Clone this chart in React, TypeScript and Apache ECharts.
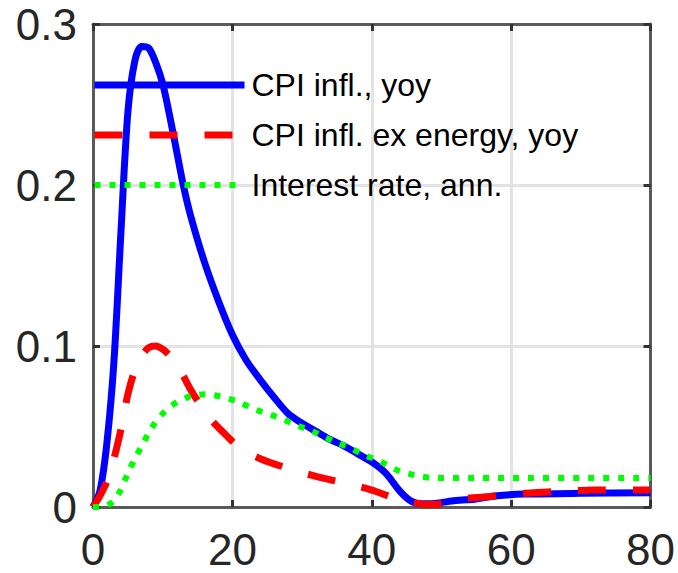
import React, { useEffect, useRef } from "react";
import * as echarts from "echarts";

const seriesNames = ["CPI infl., yoy", "CPI infl. ex energy, yoy", "Interest rate, ann."];

const cpiX = [0, 1, 2, 3, 4, 5, 6, 7, 8, 9, 10, 11, 12, 13, 14, 16, 18, 20, 22, 24, 26, 28, 30, 32, 34, 36, 38, 40, 42, 44, 45.5, 47, 49, 52, 55, 58, 62, 70, 80];
const cpiY = [0, 0.01, 0.04, 0.09, 0.17, 0.245, 0.277, 0.286, 0.285, 0.276, 0.263, 0.243, 0.221, 0.199, 0.181, 0.152, 0.128, 0.107, 0.091, 0.079, 0.068, 0.058, 0.052, 0.047, 0.042, 0.038, 0.033, 0.028, 0.021, 0.01, 0.004, 0.002, 0.0022, 0.004, 0.005, 0.007, 0.008, 0.0085, 0.0088];

const coreX = [0, 1, 2, 3, 4, 5, 6, 7, 8, 9, 10, 11, 12, 13, 14, 15, 17, 19, 21, 24, 28, 32, 36, 40, 43, 46, 48, 50, 53, 57, 62, 66, 72, 80];
const coreY = [0, 0.007, 0.016, 0.03, 0.048, 0.07, 0.085, 0.094, 0.099, 0.1, 0.098, 0.094, 0.088, 0.081, 0.073, 0.066, 0.054, 0.045, 0.037, 0.03, 0.024, 0.019, 0.015, 0.0105, 0.006, 0.0028, 0.0015, 0.002, 0.005, 0.0065, 0.0085, 0.0095, 0.0105, 0.0105];

const rateX = [0, 1, 2, 3, 4, 5, 6, 7, 8, 9, 10, 11, 12, 13, 14, 15, 16, 17, 19, 21, 23, 25, 27, 29, 31, 33, 35, 37, 39, 41, 43, 45, 47, 49, 55, 80];
const rateY = [0, 0, 0.001, 0.004, 0.011, 0.021, 0.03, 0.038, 0.046, 0.053, 0.058, 0.062, 0.065, 0.067, 0.069, 0.0695, 0.07, 0.0697, 0.068, 0.065, 0.061, 0.058, 0.055, 0.051, 0.048, 0.044, 0.040, 0.0365, 0.032, 0.029, 0.024, 0.021, 0.019, 0.018, 0.018, 0.018];

const xTicks = { min: 0, max: 80, interval: 20 };
const yTicks = { min: 0, max: 0.3, interval: 0.1 };

const FONT = "'Liberation Sans', Arial, sans-serif";

function pairs(xs: number[], ys: number[]) {
  return xs.map((x, i) => [x, ys[i]]);
}

export default function App() {
  const ref = useRef<HTMLDivElement>(null);
  useEffect(() => {
    document.body.style.margin = "0";
    const chart = echarts.init(ref.current!, undefined, { renderer: "svg" });
    const frame = "#5a5a5a";
    const tickColor = "#262626";
    const mainX = {
      type: "value" as const,
      ...xTicks,
      position: "bottom" as const,
      axisLine: { show: true, onZero: false, lineStyle: { color: frame, width: 3 } },
      axisTick: { show: true, inside: true, length: 7, lineStyle: { color: "#333", width: 3 } },
      axisLabel: { fontSize: 44, fontFamily: FONT, color: tickColor, margin: 20 },
      splitLine: { show: true, lineStyle: { color: "#e3e3e3", width: 3 } },
    };
    const mainY = {
      type: "value" as const,
      ...yTicks,
      position: "left" as const,
      axisLine: { show: true, onZero: false, lineStyle: { color: frame, width: 3 } },
      axisTick: { show: true, inside: true, length: 7, lineStyle: { color: "#333", width: 3 } },
      axisLabel: { fontSize: 44, fontFamily: FONT, color: tickColor, margin: 16, formatter: (v: number) => (v === 0 ? "0" : String(+v.toFixed(1))) },
      splitLine: { show: true, lineStyle: { color: "#e3e3e3", width: 3 } },
    };
    chart.setOption({
      animation: false,
      grid: { left: 93, right: 24, top: 24, bottom: 66, show: false },
      xAxis: [
        mainX,
        {
          ...mainX,
          position: "top",
          axisLabel: { show: false },
          splitLine: { show: false },
        },
      ],
      yAxis: [
        mainY,
        {
          ...mainY,
          position: "right",
          axisLabel: { show: false },
          splitLine: { show: false },
        },
      ],
      legend: {
        orient: "vertical",
        left: 91,
        top: 67,
        itemWidth: 150,
        itemHeight: 2,
        itemGap: 14,
        padding: 0,
        itemStyle: { opacity: 0 },
        textStyle: { fontSize: 32, fontFamily: FONT, color: "#000", lineHeight: 36, padding: [0, 0, 0, 2] },
        data: [
          { name: seriesNames[0], lineStyle: { width: 7 } },
          { name: seriesNames[1], lineStyle: { width: 7 } },
          { name: seriesNames[2], lineStyle: { width: 6 } },
        ],
      },
      series: [
        {
          name: seriesNames[0],
          type: "line",
          symbol: "none",
          smooth: 0.3,
          data: pairs(cpiX, cpiY),
          color: "#0000ff",
          lineStyle: { color: "#0000ff", width: 7 },
        },
        {
          name: seriesNames[1],
          type: "line",
          symbol: "none",
          smooth: 0.3,
          data: pairs(coreX, coreY),
          color: "#ff0000",
          lineStyle: { color: "#ff0000", width: 7, type: [28, 27] },
        },
        {
          name: seriesNames[2],
          type: "line",
          symbol: "none",
          smooth: 0.3,
          data: pairs(rateX, rateY),
          color: "#00ff00",
          lineStyle: { color: "#00ff00", width: 6, type: [6, 9] },
        },
      ],
    });
    return () => chart.dispose();
  }, []);
  return <div ref={ref} style={{ width: 678, height: 573 }} />;
}
